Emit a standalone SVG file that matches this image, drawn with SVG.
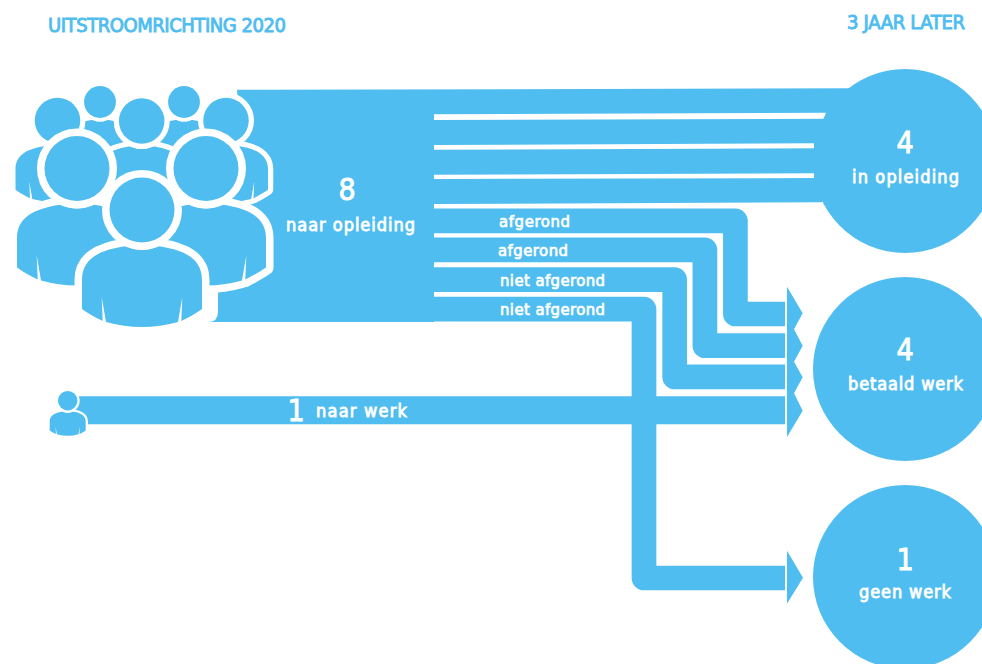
<svg xmlns="http://www.w3.org/2000/svg" xmlns:xlink="http://www.w3.org/1999/xlink" width="982" height="664" viewBox="0 0 982 664">
<style>
.f{fill:#4fbdf0}
.c{fill:none;stroke:#4fbdf0;stroke-linejoin:round}
.w{fill:#fff}
.p{fill:#4fbdf0;stroke:#fff;stroke-width:15;stroke-linejoin:round;paint-order:stroke}
text{font-family:"DejaVu Sans","Liberation Sans",sans-serif;font-stretch:condensed;font-weight:400}
.t{fill:#fff;stroke:#fff;text-anchor:start}
.h{fill:#4fbdf0;stroke:#4fbdf0;font-size:20px;stroke-width:.9}
.l{font-size:18px;stroke-width:.8}
.s{font-size:16.500px;stroke-width:.7}
.n{font-size:30px;text-anchor:middle;stroke-width:.9}
</style>
<defs>
<g id="person">
<path class="p" d="M-60,99V70C-60,50-45,40-15,36C-10,39-5,40 0,40C5,40 10,39 15,36C45,40 60,50 60,70V99C53,104 47,107 39.300,111L40.300,87L36,112Q0,122-36,112L-40.300,87L-39.300,111C-47,107-53,104-60,99Z"/>
<circle class="p" cx="0" cy="0" r="32.500"/>
</g>
</defs>
<rect width="982" height="664" fill="#fff"/>
<g id="connectors">
<path class="f" d="M237,89.800L850,88.300L850,160L822,202.300L434,204V322H208Q218,322 218,312V292L245,200Z"/>
<path class="w" d="M434,114.300L826,112.700L824,118.700L434,120ZM434,145L814,143.300V148.300L434,149.700ZM434,174.700L814,173.300V178L434,179Z"/>
<path class="c" stroke-width="24.700" d="M430,220.900H735.400V314H785"/>
<path class="c" stroke-width="24.700" d="M430,249.900H704.900V345.700H785"/>
<path class="c" stroke-width="24.700" d="M430,279.700H674.700V376.900H785"/>
<path class="c" stroke-width="24.700" d="M430,309.200H644V578H785"/>
<path class="c" stroke-width="28" d="M75,410.300H785"/>
<path class="f" d="M787,286.700L802.700,313.300L794,329.300L802.700,345.700L794,361.700L802.700,377.300L794,393.300L802.700,410.700L787,437Z"/>
<path class="f" d="M787,550.700L803,577.700L787,603.700Z"/>
</g>
<g id="node-group">
<use xlink:href="#person" href="#person" transform="translate(100,102) scale(.49)"/>
<use xlink:href="#person" href="#person" transform="translate(184,102) scale(.49)"/>
<use xlink:href="#person" href="#person" transform="translate(141.700,121) scale(.7)"/>
<use xlink:href="#person" href="#person" transform="translate(57.500,120.500) scale(.7)"/>
<use xlink:href="#person" href="#person" transform="translate(226,120.500) scale(.7)"/>
<use xlink:href="#person" href="#person" transform="translate(77,168.500)"/>
<use xlink:href="#person" href="#person" transform="translate(206,168.500)"/>
<use xlink:href="#person" href="#person" transform="translate(142,210)"/>
</g>
<g id="node-single">
<use xlink:href="#person" href="#person" transform="translate(67.700,400.700) scale(.3)"/>
</g>
<g id="node-opleiding">
<circle class="f" cx="905" cy="161" r="92"/>
<text class="t n" x="905" y="153">4</text>
<text class="t l" x="852" y="183" textLength="107">in opleiding</text>
</g>
<g id="node-betaald">
<circle class="f" cx="905" cy="369" r="92"/>
<text class="t n" x="905" y="360">4</text>
<text class="t l" x="848" y="390" textLength="115">betaald werk</text>
</g>
<g id="node-geen">
<circle class="f" cx="905" cy="577" r="92"/>
<text class="t n" x="905" y="570">1</text>
<text class="t l" x="859" y="598" textLength="92">geen werk</text>
</g>
<g id="labels">
<text class="h" x="48" y="32" textLength="238">UITSTROOMRICHTING 2020</text>
<text class="h" x="847" y="29" textLength="118">3 JAAR LATER</text>
<text class="t n" x="347" y="200">8</text>
<text class="t l" x="286" y="231" textLength="129">naar opleiding</text>
<text class="t s" x="499" y="227" textLength="71">afgerond</text>
<text class="t s" x="498" y="256" textLength="70">afgerond</text>
<text class="t s" x="500" y="286" textLength="105">niet afgerond</text>
<text class="t s" x="500" y="315" textLength="105">niet afgerond</text>
<text class="t n" x="296" y="421">1</text>
<text class="t l" x="316" y="417" textLength="91">naar werk</text>
</g>
</svg>
